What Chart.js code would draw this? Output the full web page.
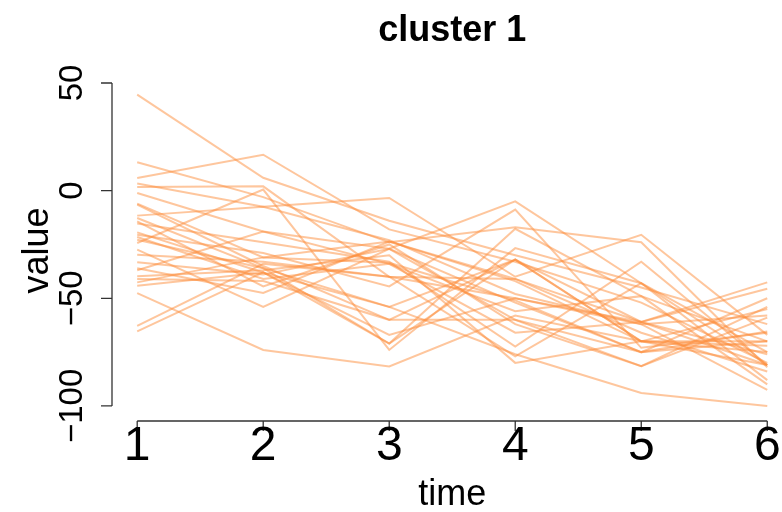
<!DOCTYPE html>
<html>
<head>
<meta charset="utf-8">
<script src="https://cdn.jsdelivr.net/npm/chart.js@4"></script>
<style>
    html, body { margin: 0; padding: 0; background: #fff; }
    #wrap { width: 782px; height: 512px; }
</style>
</head>
<body>
<div id="wrap"><canvas id="clusterChart" width="782" height="512"></canvas></div>
<script>
// time points and tick labels
const timePoints = [1, 2, 3, 4, 5, 6];
const xTicks = [1, 2, 3, 4, 5, 6];
const yTicks = [50, 0, -50, -100];

// one profile per member of cluster 1 (values at time 1..6)
const profiles = [
    [44.6, 6, -14, -30, -45, -62],
    [13.2, -3, -24, -17, -24, -82],
    [5.9, 16.7, -18, -33, -52, -80],
    [3.3, -7.5, -3.4, -40, -20.5, -67],
    [1.7, 2, -40, -50, -62, -58],
    [-1.1, -19, -27, -5, -43, -88],
    [-6, -31, -23.6, -42, -70, -75],
    [-6.5, -35, -60, -60, -75, -50],
    [-11.6, -7.5, -23, -48, -62, -92.5],
    [-12.7, -36, -71, -17.7, -49, -70],
    [-14.3, -44.5, -25, -62, -81.5, -54],
    [-15.3, -24, -33, -72.4, -33, -81],
    [-19.4, -38, -67, -50, -61, -45.6],
    [-20.5, -29, -44.5, -8.8, -73, -66],
    [-21.5, -41, -34, -66, -61, -42.6],
    [-22.8, -36, -54, -32, -70, -81],
    [-24.3, 0.5, -74, -26.7, -43, -75],
    [-27.4, -54, -27, -60, -81.5, -59],
    [-29.8, -33, -40, -77, -43, -81],
    [-33.3, -39, -27, -52, -75, -70],
    [-36, -47.5, -23.6, -41, -66, -84],
    [-37, -19, -34, -56, -49, -90],
    [-39.8, -37, -30, -80, -70, -55],
    [-41, -42, -60, -32, -61, -76],
    [-42.6, -31, -33.5, -51, -75, -65.4],
    [-44.2, -38, -54, -76, -94, -100],
    [-47.6, -74, -81.7, -58, -70, -72],
    [-62.8, -34, -40, -41, -61, -81],
    [-65.4, -38, -71, -32, -70, -70]
];

const lineColor = 'rgba(253, 141, 60, 0.5)';
const axisColor = '#333';
const fontFamily = '"Liberation Sans", Arial, Helvetica, sans-serif';

// R-style axes, labels and title drawn on top of the plot
const baseAxes = {
    id: 'baseAxes',
    afterDraw(chart) {
        const ctx = chart.ctx;
        const xs = chart.scales.x;
        const ys = chart.scales.y;
        const area = chart.chartArea;
        const xMid = (area.left + xs.getPixelForValue(6.2)) / 2;

        ctx.save();
        ctx.strokeStyle = axisColor;
        ctx.fillStyle = '#000';
        ctx.lineWidth = 1.3;

        // y axis
        const yTop = ys.getPixelForValue(yTicks[0]);
        const yBot = ys.getPixelForValue(yTicks[yTicks.length - 1]);
        ctx.beginPath();
        ctx.moveTo(area.left, yTop);
        ctx.lineTo(area.left, yBot);
        yTicks.forEach(v => {
            const py = ys.getPixelForValue(v);
            ctx.moveTo(area.left, py);
            ctx.lineTo(area.left - 11, py);
        });
        ctx.stroke();

        // x axis
        const xL = xs.getPixelForValue(xTicks[0]);
        const xR = xs.getPixelForValue(xTicks[xTicks.length - 1]);
        ctx.beginPath();
        ctx.moveTo(xL, area.bottom);
        ctx.lineTo(xR, area.bottom);
        xTicks.forEach(v => {
            const px = xs.getPixelForValue(v);
            ctx.moveTo(px, area.bottom);
            ctx.lineTo(px, area.bottom + 10);
        });
        ctx.stroke();

        // x tick labels
        ctx.font = '48px ' + fontFamily;
        ctx.textAlign = 'center';
        ctx.textBaseline = 'alphabetic';
        xTicks.forEach(v => {
            ctx.fillText(String(v), xs.getPixelForValue(v), 460);
        });

        // y tick labels, rotated like R's las = 0
        ctx.font = '33px ' + fontFamily;
        yTicks.forEach(v => {
            const py = ys.getPixelForValue(v);
            ctx.save();
            ctx.translate(82, py);
            ctx.rotate(-Math.PI / 2);
            ctx.fillText(String(v).replace('-', '\u2212'), 0, 0);
            ctx.restore();
        });

        // axis titles
        ctx.font = '36px ' + fontFamily;
        ctx.fillText('time', xMid, 505);
        ctx.save();
        ctx.translate(48, (area.top + area.bottom) / 2);
        ctx.rotate(-Math.PI / 2);
        ctx.fillText('value', 0, 0);
        ctx.restore();

        // main title
        ctx.font = 'bold 36px ' + fontFamily;
        ctx.fillText('cluster 1', xMid, 41);
        ctx.restore();
    }
};

new Chart(document.getElementById('clusterChart'), {
    type: 'line',
    data: {
        datasets: profiles.map((vals, i) => ({
            label: 'gene ' + (i + 1),
            data: vals.map((v, j) => ({ x: timePoints[j], y: v })),
            borderColor: lineColor,
            borderWidth: 2,
            pointRadius: 0,
            fill: false,
            tension: 0
        }))
    },
    options: {
        responsive: false,
        animation: false,
        devicePixelRatio: 1,
        layout: { padding: { left: 112, right: 0, top: 80, bottom: 91 } },
        plugins: {
            legend: { display: false },
            tooltip: { enabled: false },
            title: { display: false }
        },
        scales: {
            x: { type: 'linear', min: 0.8, max: 6.117, display: false },
            y: { type: 'linear', min: -107, max: 51.4, display: false }
        }
    },
    plugins: [baseAxes]
});
</script>
</body>
</html>
